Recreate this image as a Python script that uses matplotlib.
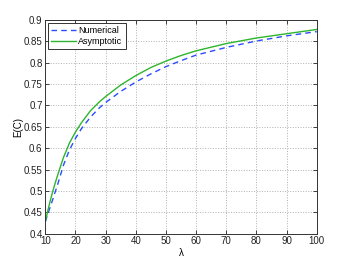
import matplotlib
matplotlib.use("Agg")
import matplotlib.pyplot as plt

lam = [10, 11, 12, 13, 14, 16, 18, 20, 22, 25, 28, 30, 35, 40, 45, 50, 55, 60, 70, 80, 90, 100]
numerical = [0.428, 0.450, 0.470, 0.492, 0.513, 0.560, 0.596, 0.623, 0.646, 0.673, 0.695, 0.707,
             0.733, 0.755, 0.774, 0.791, 0.805, 0.818, 0.836, 0.851, 0.863, 0.873]
asymptotic = [0.428, 0.459, 0.487, 0.512, 0.535, 0.578, 0.612, 0.638, 0.660, 0.688, 0.709, 0.721,
              0.748, 0.770, 0.789, 0.804, 0.817, 0.828, 0.845, 0.858, 0.868, 0.878]

plt.rcParams['font.family'] = ['Liberation Sans', 'DejaVu Sans']
plt.rcParams['font.size'] = 7

fig = plt.figure(figsize=(3.5, 2.64), dpi=100)
ax = fig.add_axes([0.1295, 0.115, 0.7755, 0.809])

ax.plot(lam, numerical, '--', color='#2b4cff', lw=1.0, dashes=(4, 3), label='Numerical')
ax.plot(lam, asymptotic, '-', color='#2db52d', lw=1.0, label='Asymptotic')

ax.set_xlim(10, 100)
ax.set_ylim(0.4, 0.9)
ax.set_xticks(range(10, 101, 10))
ax.set_yticks([0.4, 0.45, 0.5, 0.55, 0.6, 0.65, 0.7, 0.75, 0.8, 0.85, 0.9])
ax.set_yticklabels(['0.4', '0.45', '0.5', '0.55', '0.6', '0.65', '0.7', '0.75', '0.8', '0.85', '0.9'])
ax.grid(True, linestyle=':', color='#b0b0b0', lw=0.7)
ax.tick_params(direction='in', top=True, right=True, length=3, width=0.6, pad=2, colors='#222222')
for s in ax.spines.values():
    s.set_color('#333333')
    s.set_linewidth(0.7)

ax.set_xlabel('λ', labelpad=1)
ax.set_ylabel('E(C)', labelpad=0)

leg = ax.legend(loc='upper left', fancybox=False, edgecolor='#333333', framealpha=1,
                fontsize=6.5, handlelength=2.7, borderpad=0.35, labelspacing=0.2,
                handletextpad=0.3, borderaxespad=0.3)
leg.get_frame().set_linewidth(0.7)

plt.savefig('out.png', dpi=100)
